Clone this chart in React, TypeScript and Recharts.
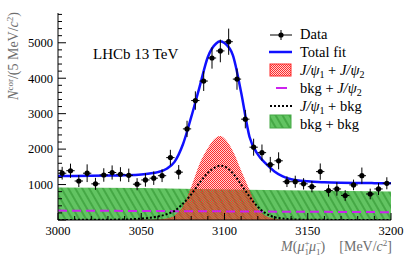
import React from 'react';
import { ComposedChart, XAxis, YAxis, Line, Area, Scatter, ErrorBar } from 'recharts';

// ---- data ----
const binCenters = [
  3002.5, 3007.5, 3012.5, 3017.5, 3022.5, 3027.5, 3032.5, 3037.5, 3042.5, 3047.5,
  3052.5, 3057.5, 3062.5, 3067.5, 3072.5, 3077.5, 3082.5, 3087.5, 3092.5, 3097.5,
  3102.5, 3107.5, 3112.5, 3117.5, 3122.5, 3127.5, 3132.5, 3137.5, 3142.5, 3147.5,
  3152.5, 3157.5, 3162.5, 3167.5, 3172.5, 3177.5, 3182.5, 3187.5, 3192.5, 3197.5,
];
const counts = [
  1320, 1390, 1100, 1320, 1020, 1270, 1340, 1290, 1260, 1010,
  1130, 1180, 1250, 1760, 1350, 2570, 3370, 3920, 4570, 4770,
  5030, 3975, 2845, 2054, 1900, 1560, 1670, 1080, 1080, 1020,
  940, 1365, 830, 876, 690, 990, 1250, 734, 876, 1036,
];
const countErrors = [
  180, 200, 170, 250, 170, 190, 200, 200, 190, 170,
  190, 190, 180, 220, 200, 230, 260, 280, 300, 320,
  370, 300, 260, 240, 230, 220, 240, 150, 170, 160,
  160, 230, 170, 190, 150, 150, 230, 150, 170, 170,
];
const binHalfWidth = [2.5];

const fitMass = [3000, 3010, 3020, 3030, 3040, 3050, 3055, 3060, 3065, 3070, 3075, 3080, 3085, 3090, 3095, 3097.5, 3100, 3105, 3110, 3115, 3120, 3125, 3130, 3135, 3140, 3150, 3160, 3170, 3180, 3190, 3200];
const totalFit = [1240, 1242, 1246, 1252, 1262, 1285, 1310, 1350, 1440, 1640, 2130, 2900, 3750, 4600, 4980, 5040, 4990, 4650, 3600, 2350, 1850, 1580, 1370, 1230, 1150, 1090, 1065, 1052, 1045, 1040, 1036];

const sigSigMass = [3000, 3040, 3055, 3060, 3065, 3070, 3075, 3080, 3085, 3090, 3095, 3097.5, 3100, 3105, 3110, 3115, 3120, 3125, 3130, 3135, 3140, 3160, 3200];
const sigSig = [2, 3, 5, 12, 40, 130, 380, 930, 1580, 2030, 2330, 2370, 2300, 1950, 1400, 846, 320, 110, 35, 10, 4, 2, 1];

const sigBkgMass = [3000, 3020, 3040, 3050, 3060, 3065, 3070, 3075, 3080, 3085, 3090, 3095, 3097.5, 3100, 3105, 3110, 3115, 3120, 3125, 3130, 3135, 3140, 3150, 3170, 3200];
const sigBkg = [3, 5, 15, 40, 100, 160, 260, 460, 720, 1050, 1330, 1500, 1532, 1510, 1320, 1000, 660, 370, 180, 80, 40, 20, 8, 3, 2];

const bkgSigMass = [3000, 3100, 3200];
const bkgSig = [265, 243, 220];

const bkgBkgMass = [3000, 3050, 3100, 3150, 3200];
const bkgBkg = [915, 900, 862, 830, 805];

const xTicks = Array.from({ length: 21 }, (_, i) => 3000 + i * 10);
const yTicks = Array.from({ length: 30 }, (_, i) => i * 200);

// ---- tables built from the arrays ----
const pts = binCenters.map((m, i) => ({ m, v: counts[i], ey: countErrors[i], ex: binHalfWidth[0] }));
const mk = (xs: number[], ys: number[]) => xs.map((m, i) => ({ m, v: ys[i] }));
const fitData = mk(fitMass, totalFit);
const sigSigData = mk(sigSigMass, sigSig);
const sigBkgData = mk(sigBkgMass, sigBkg);
const bkgSigData = mk(bkgSigMass, bkgSig);
const bkgBkgData = mk(bkgBkgMass, bkgBkg);

const SERIF = 'Liberation Serif, DejaVu Serif, serif';
const GREY = '#6e6e6e';
const T = { fontFamily: SERIF };

const BottomTick = (p: any) => {
  const { x, y, payload } = p;
  const v = payload.value;
  const major = v % 50 === 0;
  return (
    <g>
      <line x1={x} x2={x} y1={y} y2={y - (major ? 7 : 4)} stroke="#000" strokeWidth={1} />
      {major && (
        <text x={x} y={y + 15} textAnchor="middle" fontSize={12.5} style={T} fill="#000">
          {v}
        </text>
      )}
    </g>
  );
};
const TopTick = (p: any) => {
  const { x, y, payload } = p;
  const major = payload.value % 50 === 0;
  return <line x1={x} x2={x} y1={y} y2={y + (major ? 7 : 4)} stroke="#000" strokeWidth={1} />;
};
const LeftTick = (p: any) => {
  const { x, y, payload } = p;
  const v = payload.value;
  const major = v % 1000 === 0;
  return (
    <g>
      <line x1={x} x2={x + (major ? 8 : 4)} y1={y} y2={y} stroke="#000" strokeWidth={1} />
      {major && v > 0 && (
        <text x={x - 5} y={y + 4.3} textAnchor="end" fontSize={12.5} style={T} fill="#000">
          {v}
        </text>
      )}
    </g>
  );
};
const RightTick = (p: any) => {
  const { x, y, payload } = p;
  const major = payload.value % 1000 === 0;
  return <line x1={x} x2={x - (major ? 8 : 4)} y1={y} y2={y} stroke="#000" strokeWidth={1} />;
};

const Dot = (p: any) => <circle cx={p.cx} cy={p.cy} r={2.6} fill="#000" />;

const sub = (s: string) => (
  <tspan fontSize={10} dy={3}>{s}</tspan>
);

export default function App() {
  return (
    <div style={{ position: 'absolute', left: 0, top: 0, width: 412, height: 263, background: '#fff', fontFamily: SERIF }}>
      <ComposedChart width={412} height={263} margin={{ top: 13, right: 21, bottom: 0, left: 0 }} style={T}>
        <defs>
          <pattern id="redCheck" width="2" height="2" patternUnits="userSpaceOnUse">
            <rect x="0" y="0" width="1" height="1" fill="#ff2a2a" />
            <rect x="1" y="1" width="1" height="1" fill="#ff2a2a" />
            <rect x="1" y="0" width="1" height="1" fill="#ff2a2a" fillOpacity={0.2} />
            <rect x="0" y="1" width="1" height="1" fill="#ff2a2a" fillOpacity={0.2} />
          </pattern>
          <pattern id="greenHatch" width="6" height="6" patternUnits="userSpaceOnUse" patternTransform="rotate(-30)">
            <rect width="6" height="6" fill="#62c462" />
            <rect width="2" height="6" fill="#45a845" />
          </pattern>
        </defs>

        <XAxis xAxisId="b" type="number" dataKey="m" domain={[3000, 3200]} allowDataOverflow ticks={xTicks}
          interval={0} tick={<BottomTick />} tickLine={false} tickSize={0} tickMargin={0} height={43}
          axisLine={{ stroke: '#000', strokeWidth: 1 }} />
        <XAxis xAxisId="t" orientation="top" type="number" dataKey="m" domain={[3000, 3200]} allowDataOverflow
          ticks={xTicks} interval={0} tick={<TopTick />} tickLine={false} tickSize={0} tickMargin={0} height={0}
          axisLine={{ stroke: '#000', strokeWidth: 1 }} />
        <YAxis yAxisId="l" type="number" domain={[0, 5840]} allowDataOverflow ticks={yTicks} interval={0}
          tick={<LeftTick />} tickLine={false} tickSize={0} tickMargin={0} width={58}
          axisLine={{ stroke: '#000', strokeWidth: 1 }} />
        <YAxis yAxisId="r" orientation="right" type="number" domain={[0, 5840]} allowDataOverflow ticks={yTicks}
          interval={0} tick={<RightTick />} tickLine={false} tickSize={0} tickMargin={0} width={0}
          axisLine={{ stroke: '#000', strokeWidth: 1 }} />

        <Area xAxisId="b" yAxisId="l" data={bkgBkgData} dataKey="v" type="linear" fill="url(#greenHatch)"
          fillOpacity={1} stroke="none" isAnimationActive={false} />
        <Area xAxisId="b" yAxisId="l" data={sigSigData} dataKey="v" type="monotone" fill="url(#redCheck)"
          fillOpacity={1} stroke="none" isAnimationActive={false} />
        <Line xAxisId="b" yAxisId="l" data={bkgSigData} dataKey="v" type="linear" stroke="#cc22ee" strokeWidth={2}
          strokeDasharray="9 5" dot={false} isAnimationActive={false} />
        <Line xAxisId="b" yAxisId="l" data={sigBkgData} dataKey="v" type="monotone" stroke="#000" strokeWidth={2}
          strokeDasharray="2 2" dot={false} isAnimationActive={false} />
        <Line xAxisId="b" yAxisId="l" data={fitData} dataKey="v" type="monotone" stroke="#1010ff" strokeWidth={2.5}
          dot={false} isAnimationActive={false} />
        <Scatter xAxisId="b" yAxisId="l" data={pts} dataKey="v" shape={<Dot />} isAnimationActive={false}>
          <ErrorBar dataKey="ey" direction="y" width={0} stroke="#000" strokeWidth={1} />
          <ErrorBar dataKey="ex" direction="x" width={0} stroke="#000" strokeWidth={1} />
        </Scatter>

        {/* LHCb label */}
        <text x={93} y={59} fontSize={15} style={T} fill="#000">LHCb 13 TeV</text>

        {/* legend */}
        <g style={T} fontSize={14.5} fill="#000">
          <line x1={270} x2={292} y1={35} y2={35} stroke="#000" strokeWidth={1} />
          <line x1={281} x2={281} y1={30} y2={40} stroke="#000" strokeWidth={1} />
          <circle cx={281} cy={35} r={2.6} fill="#000" />
          <text x={300} y={39}>Data</text>

          <line x1={269} x2={292} y1={52} y2={52} stroke="#1010ff" strokeWidth={2.5} />
          <text x={300} y={57}>Total fit</text>

          <rect x={270} y={64} width={21} height={12} fill="url(#redCheck)" stroke="#ff2a2a" strokeWidth={1} />
          <text x={300} y={75}>
            <tspan fontStyle="italic">J/ψ</tspan>{sub('1')}<tspan dy={-3}> + </tspan>
            <tspan fontStyle="italic">J/ψ</tspan>{sub('2')}
          </text>

          <line x1={276} x2={287} y1={88} y2={88} stroke="#cc22ee" strokeWidth={2} />
          <text x={300} y={93}>
            <tspan>bkg + </tspan><tspan fontStyle="italic">J/ψ</tspan>{sub('2')}
          </text>

          <line x1={270} x2={292} y1={106} y2={106} stroke="#000" strokeWidth={2} strokeDasharray="2 2" />
          <text x={300} y={111}>
            <tspan fontStyle="italic">J/ψ</tspan>{sub('1')}<tspan dy={-3}> + bkg</tspan>
          </text>

          <rect x={270} y={115} width={21} height={13} fill="url(#greenHatch)" stroke="#45a845" strokeWidth={1} />
          <text x={300} y={129}>bkg + bkg</text>
        </g>

        {/* y title */}
        <text transform="translate(18,12) rotate(-90)" textAnchor="end" style={T} fontSize={14} fill={GREY}>
          <tspan fontStyle="italic">N</tspan>
          <tspan fontSize={9} dy={-5}>cor</tspan>
          <tspan dy={5}>/(5 MeV/</tspan>
          <tspan fontStyle="italic">c</tspan>
          <tspan fontSize={9} dy={-5}>2</tspan>
          <tspan dy={5}>)</tspan>
        </text>

        {/* x title */}
        <text x={392} y={251} textAnchor="end" style={T} fontSize={14} fill={GREY}>
          <tspan fontStyle="italic">M</tspan>
          <tspan>(</tspan>
          <tspan fontStyle="italic">μ</tspan>
          <tspan fontSize={9} dy={-5}>+</tspan>
          <tspan fontSize={9} dx={-5} dy={9}>1</tspan>
          <tspan fontStyle="italic" dy={-4}>μ</tspan>
          <tspan fontSize={9} dy={-5}>−</tspan>
          <tspan fontSize={9} dx={-5} dy={9}>1</tspan>
          <tspan dy={-4}>)</tspan>
          <tspan dx={14}>[MeV/</tspan>
          <tspan fontStyle="italic">c</tspan>
          <tspan fontSize={9} dy={-5}>2</tspan>
          <tspan dy={5}>]</tspan>
        </text>
      </ComposedChart>
    </div>
  );
}
